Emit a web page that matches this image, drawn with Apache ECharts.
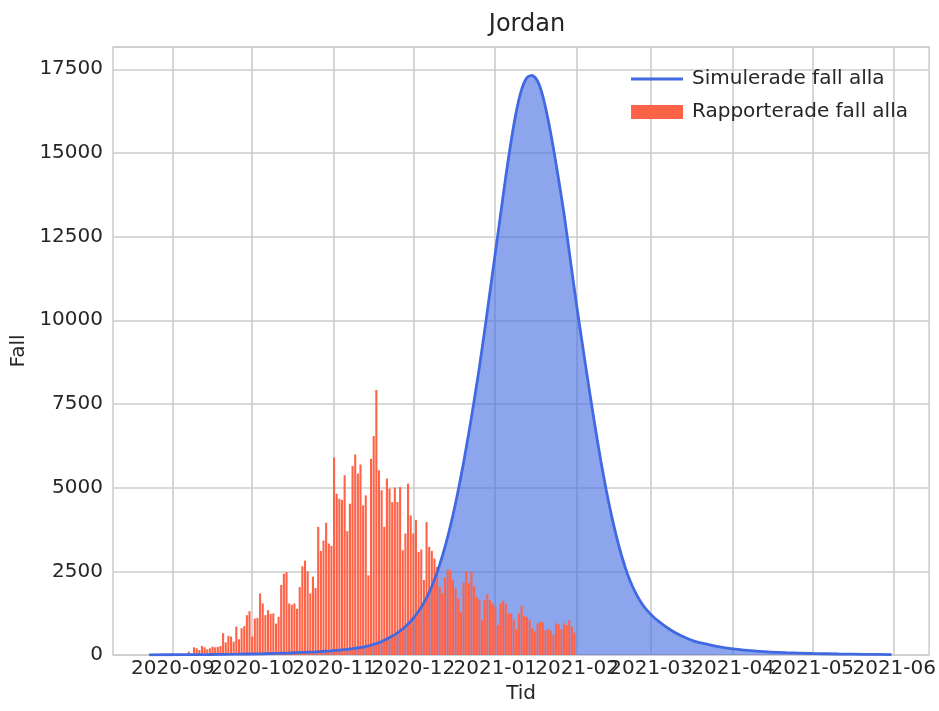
<!DOCTYPE html>
<html>
<head>
<meta charset="utf-8">
<script src="https://cdn.jsdelivr.net/npm/echarts@6/dist/echarts.min.js"></script>
<style>
html,body{margin:0;padding:0;background:#fff;}
#chart{width:939px;height:711px;}
</style>
</head>
<body>
<div id="chart"></div>
<script>
// ---- data ----
const titleText = 'Jordan';
const xName = 'Tid';
const yName = 'Fall';
const simName = 'Simulerade fall alla';
const repName = 'Rapporterade fall alla';

// simulated curve
const simDates = ['2020-08-23','2020-09-05','2020-09-15','2020-09-25','2020-10-05','2020-10-15','2020-10-25','2020-10-31',
  '2020-11-02','2020-11-04','2020-11-06','2020-11-08','2020-11-10','2020-11-12','2020-11-14','2020-11-16','2020-11-18',
  '2020-11-20','2020-11-22','2020-11-24','2020-11-26','2020-11-28','2020-11-30',
  '2020-12-02','2020-12-04','2020-12-06','2020-12-08','2020-12-10','2020-12-12','2020-12-14','2020-12-16','2020-12-18',
  '2020-12-20','2020-12-22','2020-12-24','2020-12-26','2020-12-28','2020-12-30',
  '2021-01-01','2021-01-03','2021-01-05','2021-01-07','2021-01-09','2021-01-11','2021-01-13','2021-01-15','2021-01-17',
  '2021-01-19','2021-01-21','2021-01-23','2021-01-25','2021-01-27','2021-01-29','2021-01-31',
  '2021-02-02','2021-02-04','2021-02-06','2021-02-08','2021-02-10','2021-02-12','2021-02-14','2021-02-16','2021-02-18',
  '2021-02-20','2021-02-22','2021-02-24','2021-02-26','2021-02-28',
  '2021-03-02','2021-03-04','2021-03-06','2021-03-08','2021-03-10','2021-03-12','2021-03-17','2021-03-24',
  '2021-04-01','2021-04-11','2021-04-21','2021-05-01','2021-05-11','2021-05-21','2021-05-31'];
const simValues = [5,9,15,24,38,60,95,125,
  140,155,170,190,210,235,270,320,370,
  440,520,610,720,850,1010,
  1200,1430,1710,2050,2470,2960,3530,4180,4920,
  5740,6640,7590,8600,9700,10850,
  12000,13150,14300,15350,16250,16900,17250,17320,17150,
  16700,16000,15150,14200,13200,12050,10900,
  9800,8750,7720,6720,5780,4930,4170,3500,2920,
  2430,2040,1730,1480,1290,
  1130,1000,880,770,670,590,420,290,
  180,110,70,45,30,20,12];

// reported daily cases, one value per day starting at reportedStart
const reportedStart = '2020-09-07';
const reported = [100,40,230,200,150,270,230,170,200,250,230,240,270,650,380,570,550,400,850,470,
  800,860,1190,1310,550,1090,1110,1840,1540,1190,1340,1230,1240,940,1140,2090,2430,2480,1540,1500,
  1540,1380,2030,2650,2820,2500,1840,2340,2000,3830,3110,3420,3950,3330,3260,5900,4820,4670,4630,5370,
  3700,4520,5650,5990,5420,5690,4470,4770,2380,5860,6540,7920,5520,4920,3830,5270,4970,4570,5000,4570,
  5020,3130,3630,5120,4170,3630,4030,3080,3150,2240,3970,3230,3110,2880,2630,2040,1840,2320,2560,2530,
  2240,1990,1690,1290,2160,2510,2140,2480,2060,1740,1660,1040,1640,1820,1640,1540,1440,894,1540,1620,
  1520,1240,1240,1060,765,1240,1470,1170,1140,1060,795,700,944,1000,975,745,775,725,596,944,
  914,765,944,894,1040,845,666];

// axis ticks
const xTickDates = ['2020-09-01','2020-10-01','2020-11-01','2020-12-01','2021-01-01','2021-02-01','2021-03-01','2021-04-01','2021-05-01','2021-06-01'];
const yMin = 0, yMax = 18165, yStep = 2500;
const xMinDate = '2020-08-09T08:00:00Z', xMaxDate = '2021-06-14T05:00:00Z';

// ---- build ----
const DAY = 86400000;
const ts = s => Date.parse(s.length === 10 ? s + 'T00:00:00Z' : s);
const simData = simDates.map((d, i) => [ts(d), simValues[i]]);
const repData = reported.map((v, i) => [ts(reportedStart) + i * DAY, v]);
const xTicks = xTickDates.map(ts);
const xTicksA = xTicks.filter((t, i) => i % 2 === 0);
const xTicksB = xTicks.filter((t, i) => i % 2 === 1);
const fmt = v => { const d = new Date(v); return d.getUTCFullYear() + '-' + String(d.getUTCMonth() + 1).padStart(2, '0'); };

const FONT = 'DejaVu Sans, sans-serif';
const TXT = '#262626';
const labelBase = {formatter: fmt, fontFamily: FONT, fontSize: 20, color: TXT, margin: 4,
  hideOverlap: false, showMinLabel: true, showMaxLabel: true};
const chart = echarts.init(document.getElementById('chart'), null, {renderer: 'canvas'});
chart.setOption({
  animation: false,
  backgroundColor: '#ffffff',
  textStyle: {fontFamily: FONT, color: TXT},
  title: {text: titleText, left: 522, textAlign: 'center', top: 8,
    textStyle: {fontFamily: FONT, fontSize: 24, fontWeight: 'normal', color: TXT}},
  grid: {left: 113, right: 8, top: 47, bottom: 56, show: true, borderColor: '#cccccc', borderWidth: 1.5, containLabel: false},
  legend: {
    orient: 'vertical', left: 626, top: 64, itemWidth: 52, itemHeight: 14, itemGap: 13,
    textStyle: {fontFamily: FONT, fontSize: 20, color: TXT, padding: [0, 0, 0, 4]},
    data: [{name: simName, icon: 'path://M0,0 L50,0 L50,3 L0,3 Z'}, {name: repName, icon: 'rect'}]
  },
  xAxis: [{
    type: 'value', min: ts(xMinDate), max: ts(xMaxDate), position: 'bottom',
    name: xName, nameLocation: 'middle', nameGap: 26,
    nameTextStyle: {fontFamily: FONT, fontSize: 20, color: TXT},
    axisLine: {show: false},
    axisTick: {show: false, customValues: xTicks},
    axisLabel: Object.assign({customValues: xTicksA}, labelBase),
    splitLine: {show: true, lineStyle: {color: '#cccccc', width: 1.6}}
  }, {
    type: 'value', min: ts(xMinDate), max: ts(xMaxDate), position: 'bottom', offset: 0,
    axisLine: {show: false},
    axisTick: {show: false, customValues: xTicksB},
    axisLabel: Object.assign({customValues: xTicksB}, labelBase),
    splitLine: {show: false}
  }],
  yAxis: {
    type: 'value', min: yMin, max: yMax, interval: yStep,
    name: yName, nameLocation: 'middle', nameGap: 82,
    nameTextStyle: {fontFamily: FONT, fontSize: 20, color: TXT},
    axisLine: {show: false}, axisTick: {show: false},
    axisLabel: {fontFamily: FONT, fontSize: 20, color: TXT, margin: 10, showMaxLabel: false, formatter: v => String(v)},
    splitLine: {show: true, lineStyle: {color: '#cccccc', width: 1.6}}
  },
  series: [
    {name: simName + ' fill', type: 'line', data: simData, smooth: 0.25, symbol: 'none',
      lineStyle: {width: 0}, areaStyle: {color: '#4169e1', opacity: 0.6}, z: 1, silent: true, legendHoverLink: false},
    {name: repName, type: 'bar', data: repData, barWidth: 2.1, itemStyle: {color: '#ff6347'}, z: 2},
    {name: simName, type: 'line', data: simData, smooth: 0.25, symbol: 'none', showSymbol: false,
      lineStyle: {color: '#4169e1', width: 2.8}, itemStyle: {color: '#4169e1'}, z: 3}
  ]
});
</script>
</body>
</html>
